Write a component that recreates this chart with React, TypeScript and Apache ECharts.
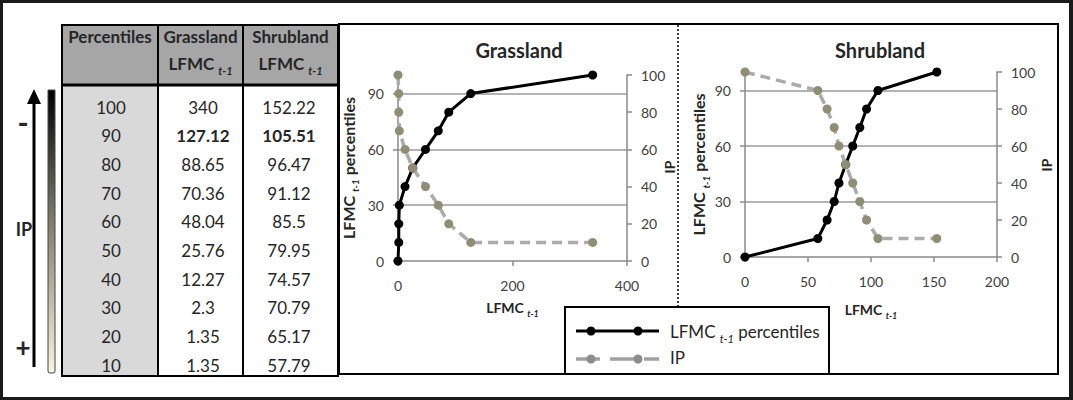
import React, { useEffect, useRef } from 'react';
import * as echarts from 'echarts';

// ---------- data ----------
const tablePercentiles = [100, 90, 80, 70, 60, 50, 40, 30, 20, 10];
const grassLFMC = [340, 127.12, 88.65, 70.36, 48.04, 25.76, 12.27, 2.3, 1.35, 1.35];
const shrubLFMC = [152.22, 105.51, 96.47, 91.12, 85.5, 79.95, 74.57, 70.79, 65.17, 57.79];
const boldPercentile = 90;

const curvePercentiles = [0, 10, 20, 30, 40, 50, 60, 70, 80, 90, 100];
const grassCurveX = [0, 1.35, 1.35, 2.3, 12.27, 25.76, 48.04, 70.36, 88.65, 127.12, 340];
const shrubCurveX = [0, 57.79, 65.17, 70.79, 74.57, 79.95, 85.5, 91.12, 96.47, 105.51, 152.22];
const ipValues = [100, 90, 80, 70, 60, 50, 40, 30, 20, 10, 10];

const grassXTicks = [0, 200, 400];
const shrubXTicks = [0, 50, 100, 150, 200];
const percentileTicks = [0, 30, 60, 90];
const ipTicks = [0, 20, 40, 60, 80, 100];

// ---------- style ----------
const FONT = 'Lato, "Noto Sans", sans-serif';
const TXT = '#262626';
const AXIS = '#8a8a8a';
const GRID = '#9a9a9a';
const IP_LINE = '#ababab';
const IP_DOT = '#8f8d76';

// rich styles for echarts text options (uses "color")
const richSub = (size: number, bold: boolean) => ({
  m: { fontSize: size, fontWeight: bold ? 'bold' : 'normal', fontFamily: FONT, color: TXT, lineHeight: size + 8 },
  s: {
    fontSize: Math.round(size * 0.62),
    fontStyle: 'italic',
    fontWeight: bold ? 'bold' : 'normal',
    fontFamily: FONT,
    color: TXT,
    verticalAlign: 'bottom',
    lineHeight: Math.round(size * 0.62) + 2,
  },
});
// rich styles for graphic (zrender) text (uses "fill")
const richSubG = (size: number, bold: boolean) => ({
  m: { fontSize: size, fontWeight: bold ? 'bold' : 'normal', fontFamily: FONT, fill: TXT, lineHeight: size + 8 },
  s: {
    fontSize: Math.round(size * 0.62),
    fontStyle: 'italic',
    fontWeight: bold ? 'bold' : 'normal',
    fontFamily: FONT,
    fill: TXT,
    verticalAlign: 'bottom',
    lineHeight: Math.round(size * 0.62) + 2,
  },
});

const zip = (xs: number[], ys: number[]) => xs.map((x, i) => [x, ys[i]]);

function xAxisOf(gridIndex: number, ticks: number[], gap: number) {
  return {
    type: 'value',
    gridIndex,
    min: ticks[0],
    max: ticks[ticks.length - 1],
    interval: ticks[1] - ticks[0],
    axisLine: { show: true, lineStyle: { color: AXIS, width: 1.5 } },
    axisTick: { show: true, length: 5, lineStyle: { color: AXIS, width: 1.5 } },
    axisLabel: { margin: 17, fontSize: 14, color: '#404040', fontFamily: FONT },
    splitLine: { show: false },
    name: '{m|LFMC }{s|t-1}',
    nameLocation: 'middle',
    nameGap: gap,
    nameTextStyle: { rich: richSub(14, true) },
  };
}

function leftAxisOf(gridIndex: number, gap: number) {
  return {
    type: 'value',
    gridIndex,
    position: 'left',
    min: 0,
    max: 100,
    interval: 30,
    axisLine: { show: true, lineStyle: { color: AXIS, width: 1.5 } },
    axisTick: { show: true, length: 5, customValues: percentileTicks, lineStyle: { color: AXIS, width: 1.5 } },
    axisLabel: { margin: 14, fontSize: 14, color: '#404040', fontFamily: FONT, customValues: percentileTicks },
    splitLine: { show: true, showMinLine: false, lineStyle: { color: GRID, width: 1.5 } },
    name: '{m|LFMC }{s|t-1}{m| percentiles}',
    nameLocation: 'middle',
    nameRotate: 90,
    nameGap: gap,
    nameTextStyle: { rich: richSub(16, true) },
  };
}

function rightAxisOf(gridIndex: number) {
  return {
    type: 'value',
    gridIndex,
    position: 'right',
    min: ipTicks[0],
    max: ipTicks[ipTicks.length - 1],
    interval: ipTicks[1] - ipTicks[0],
    axisLine: { show: true, lineStyle: { color: AXIS, width: 1.5 } },
    axisTick: { show: true, length: 5, lineStyle: { color: AXIS, width: 1.5 } },
    axisLabel: { margin: 14, fontSize: 14, color: '#404040', fontFamily: FONT },
    splitLine: { show: false },
  };
}

const curveSeries = (xi: number, yi: number, xs: number[]) => ({
  type: 'line',
  xAxisIndex: xi,
  yAxisIndex: yi,
  data: zip(xs, curvePercentiles),
  symbol: 'circle',
  symbolSize: 9,
  lineStyle: { color: '#000', width: 3 },
  itemStyle: { color: '#000' },
  z: 3,
});

const ipSeries = (xi: number, yi: number, xs: number[]) => ({
  type: 'line',
  xAxisIndex: xi,
  yAxisIndex: yi,
  data: zip(xs, ipValues),
  symbol: 'circle',
  symbolSize: 9,
  lineStyle: { color: IP_LINE, width: 3.5, type: [10, 6] },
  itemStyle: { color: IP_DOT },
  z: 4,
});

// ---------- table geometry ----------
const colX = [62, 158, 243, 338];
const tTop = 25;
const tHead = 85;
const tBottom = 376;
const rowY0 = 107;
const rowStep = 28.7;
const colCenters = [111, 203, 289];

function buildGraphics() {
  const g: any[] = [];
  // outer frame
  g.push({ type: 'rect', shape: { x: 0, y: 0, width: 1073, height: 3 }, style: { fill: '#1a1a1a' } });
  g.push({ type: 'rect', shape: { x: 0, y: 397, width: 1073, height: 3 }, style: { fill: '#1a1a1a' } });
  g.push({ type: 'rect', shape: { x: 0, y: 0, width: 3, height: 400 }, style: { fill: '#1a1a1a' } });
  g.push({ type: 'rect', shape: { x: 1069, y: 0, width: 4, height: 400 }, style: { fill: '#1a1a1a' } });

  // table backgrounds
  g.push({ type: 'rect', shape: { x: colX[0], y: tTop, width: colX[3] - colX[0], height: tHead - tTop }, style: { fill: '#a6a6a6' } });
  g.push({ type: 'rect', shape: { x: colX[0], y: tHead, width: colX[1] - colX[0], height: tBottom - tHead }, style: { fill: '#d9d9d9' } });
  // table borders
  [tTop, tHead, tBottom].forEach((y) =>
    g.push({ type: 'line', shape: { x1: colX[0] - 1, y1: y, x2: colX[3] + 1, y2: y }, style: { stroke: '#000', lineWidth: y === tHead ? 3 : 2 } })
  );
  colX.forEach((x) =>
    g.push({ type: 'line', shape: { x1: x, y1: tTop, x2: x, y2: tBottom }, style: { stroke: '#000', lineWidth: 2 } })
  );
  // header texts
  const hb = { fontSize: 17, fontWeight: 'bold', fontFamily: FONT, fill: TXT, align: 'center', verticalAlign: 'middle' };
  g.push({ type: 'text', x: (colX[0] + colX[1]) / 2, y: 36, style: { ...hb, text: 'Percentiles' } });
  g.push({ type: 'text', x: (colX[1] + colX[2]) / 2, y: 36, style: { ...hb, text: 'Grassland' } });
  g.push({ type: 'text', x: (colX[2] + colX[3]) / 2, y: 36, style: { ...hb, text: 'Shrubland' } });
  [(colX[1] + colX[2]) / 2, (colX[2] + colX[3]) / 2].forEach((cx) =>
    g.push({
      type: 'text',
      x: cx,
      y: 63,
      style: { text: '{m|LFMC }{s|t-1}', align: 'center', verticalAlign: 'middle', rich: richSubG(17, true) },
    })
  );
  // body
  tablePercentiles.forEach((p, i) => {
    const y = rowY0 + i * rowStep;
    const bold = p === boldPercentile;
    const base = { fontSize: 17, fontFamily: FONT, fill: TXT, align: 'center', verticalAlign: 'middle' };
    g.push({ type: 'text', x: colCenters[0], y, style: { ...base, text: String(p) } });
    g.push({ type: 'text', x: colCenters[1], y, style: { ...base, fontWeight: bold ? 'bold' : 'normal', text: String(grassLFMC[i]) } });
    g.push({ type: 'text', x: colCenters[2], y, style: { ...base, fontWeight: bold ? 'bold' : 'normal', text: String(shrubLFMC[i]) } });
  });

  // IP arrow + gradient bar
  g.push({ type: 'line', shape: { x1: 34, y1: 100, x2: 34, y2: 367 }, style: { stroke: '#000', lineWidth: 3 } });
  g.push({ type: 'polygon', shape: { points: [[34, 89], [27, 104], [41, 104]] }, style: { fill: '#000' } });
  g.push({
    type: 'rect',
    shape: { x: 48, y: 90, width: 7, height: 283, r: [0, 0, 2, 2] },
    style: {
      fill: new echarts.graphic.LinearGradient(0, 0, 0, 1, [
        { offset: 0, color: '#000000' },
        { offset: 0.45, color: '#7d7a6c' },
        { offset: 1, color: '#f8f5e2' },
      ]),
      stroke: '#444',
      lineWidth: 1,
    },
  });
  const sideTxt = { fontWeight: 'bold', fontFamily: FONT, fill: TXT, align: 'center', verticalAlign: 'middle' };
  g.push({ type: 'text', x: 23, y: 122, style: { ...sideTxt, fontSize: 30, text: '-' } });
  g.push({ type: 'text', x: 24, y: 229, style: { ...sideTxt, fontSize: 18, text: 'IP' } });
  g.push({ type: 'text', x: 23, y: 347, style: { ...sideTxt, fontSize: 26, text: '+' } });

  // chart frame & divider
  g.push({ type: 'rect', shape: { x: 339, y: 24, width: 719, height: 350 }, style: { fill: 'none', stroke: '#000', lineWidth: 2 } });
  g.push({ type: 'line', shape: { x1: 678, y1: 25, x2: 678, y2: 307 }, style: { stroke: '#000', lineWidth: 1.5, lineDash: [2, 2] } });

  // titles
  const tt = { fontSize: 20, fontWeight: 'bold', fontFamily: FONT, fill: TXT, align: 'center', verticalAlign: 'middle' };
  g.push({ type: 'text', x: 519, y: 50, style: { ...tt, text: 'Grassland' } });
  g.push({ type: 'text', x: 880, y: 50, style: { ...tt, text: 'Shrubland' } });

  // right axis names (IP)
  const ipName = { fontSize: 14, fontWeight: 'bold', fontFamily: FONT, fill: TXT, align: 'center', verticalAlign: 'middle', text: 'IP' };
  g.push({ type: 'text', x: 669, y: 167, rotation: Math.PI / 2, style: ipName });
  g.push({ type: 'text', x: 1046, y: 165, rotation: Math.PI / 2, style: ipName });

  // legend
  g.push({ type: 'rect', shape: { x: 565, y: 307, width: 264, height: 67 }, style: { fill: '#fff', stroke: '#000', lineWidth: 2 }, z: 10 });
  g.push({ type: 'line', shape: { x1: 576, y1: 331, x2: 659, y2: 331 }, style: { stroke: '#000', lineWidth: 3 }, z: 11 });
  [591, 638].forEach((cx) => g.push({ type: 'circle', shape: { cx, cy: 331, r: 4.5 }, style: { fill: '#000' }, z: 12 }));
  g.push({ type: 'line', shape: { x1: 576, y1: 359, x2: 659, y2: 359 }, style: { stroke: '#a0a0a0', lineWidth: 3.5, lineDash: [24, 10] }, z: 11 });
  [591, 638].forEach((cx) => g.push({ type: 'circle', shape: { cx, cy: 359, r: 4.5 }, style: { fill: '#8c8c8c' }, z: 12 }));
  g.push({
    type: 'text',
    x: 670,
    y: 331,
    z: 12,
    style: { text: '{m|LFMC }{s|t-1}{m| percentiles}', align: 'left', verticalAlign: 'middle', rich: richSubG(17, false) },
  });
  g.push({ type: 'text', x: 670, y: 357, z: 12, style: { text: 'IP', fontSize: 17, fontFamily: FONT, fill: TXT, align: 'left', verticalAlign: 'middle' } });
  return g;
}

export default function App() {
  const ref = useRef<HTMLDivElement>(null);
  useEffect(() => {
    const chart = echarts.init(ref.current!, null, { renderer: 'svg' });
    chart.setOption({
      animation: false,
      backgroundColor: '#fff',
      textStyle: { fontFamily: FONT },
      grid: [
        { left: 398, top: 75, width: 229, height: 186 },
        { left: 745, top: 72, width: 252, height: 185 },
      ],
      xAxis: [xAxisOf(0, grassXTicks, 35), xAxisOf(1, shrubXTicks, 41)],
      yAxis: [leftAxisOf(0, 38), rightAxisOf(0), leftAxisOf(1, 34), rightAxisOf(1)],
      series: [
        curveSeries(0, 0, grassCurveX),
        ipSeries(0, 1, grassCurveX),
        curveSeries(1, 2, shrubCurveX),
        ipSeries(1, 3, shrubCurveX),
      ],
      graphic: buildGraphics(),
    });
    return () => chart.dispose();
  }, []);
  return (
    <div
      ref={ref}
      style={{ position: 'absolute', left: 0, top: 0, width: 1073, height: 400, background: '#fff' }}
    />
  );
}
